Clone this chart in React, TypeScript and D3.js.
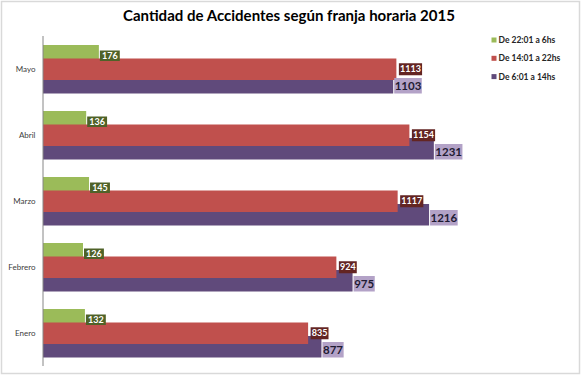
import React from "react";
import * as d3 from "d3";

const months = ["Enero", "Febrero", "Marzo", "Abril", "Mayo"];
const seriesNames = ["De 22:01 a 6hs", "De 14:01 a 22hs", "De 6:01 a 14hs"];
const nightValues = [132, 126, 145, 136, 176];
const afternoonValues = [835, 924, 1117, 1154, 1113];
const morningValues = [877, 975, 1216, 1231, 1103];
const title = "Cantidad de Accidentes según franja horaria 2015";

const W = 581;
const H = 376;
const FONT = "Lato, 'Noto Sans', Arial, sans-serif";

const barColors = ["#9bbb59", "#c0504d", "#604a7b"];
const labelBg = ["#4f6228", "#632523", "#b3a2c7"];
const labelFg = ["#ffffff", "#ffffff", "#1f1b33"];

export default function App() {
  const x = d3.scaleLinear().domain([0, 1400]).range([43, 487.5]);
  const y = d3
    .scaleBand<string>()
    .domain([...months].reverse())
    .range([36, 366])
    .paddingInner(0)
    .paddingOuter(0);
  const barH = 21.5;
  const sub = d3.scalePoint<number>().domain([0, 1, 2]).range([9, 36]);

  const values = [nightValues, afternoonValues, morningValues];
  // draw order: green, purple, red (red on top)
  const drawOrder = [0, 2, 1];

  const bars: React.ReactNode[] = [];
  drawOrder.forEach((s) => {
    months.forEach((m, i) => {
      const v = values[s][i];
      const y0 = (y(m) as number) + (sub(s) as number);
      bars.push(
        <rect
          key={`b${s}-${i}`}
          x={x(0)}
          y={y0}
          width={x(v) - x(0)}
          height={barH}
          fill={barColors[s]}
        />
      );
    });
  });

  const labels: React.ReactNode[] = [];
  [0, 1, 2].forEach((s) => {
    months.forEach((m, i) => {
      const v = values[s][i];
      const t = String(v);
      const y0 = (y(m) as number) + (sub(s) as number);
      let bx: number, bw: number, bh: number, cy: number, fs: number;
      if (s === 0) {
        bx = x(v) + 1;
        bw = t.length * 5.3 + 4;
        bh = 10.5;
        cy = y0 + barH / 2;
        fs = 9;
      } else if (s === 1) {
        bx = x(v) + 2.5;
        bw = t.length * 5.3 + 2;
        bh = 12;
        cy = y0 + barH / 2;
        fs = 9;
      } else {
        bx = x(v) + 1;
        bw = t.length * 6.4 + 2;
        bh = 15.5;
        cy = y0 + barH - bh / 2;
        fs = 11.5;
      }
      labels.push(
        <g key={`l${s}-${i}`}>
          <rect x={bx} y={cy - bh / 2} width={bw} height={bh} fill={labelBg[s]} />
          <text
            x={bx + bw / 2}
            y={cy}
            dy="0.36em"
            textAnchor="middle"
            fontFamily={FONT}
            fontWeight="bold"
            fontSize={fs}
            fill={labelFg[s]}
          >
            {t}
          </text>
        </g>
      );
    });
  });

  return (
    <svg
      width={W}
      height={H}
      style={{ position: "absolute", left: 0, top: 0, background: "#fff" }}
    >
      <rect x={1.5} y={1.5} width={578} height={372} fill="#fff" stroke="#d9d9d9" strokeWidth={1.5} />
      <text
        x={289}
        y={21}
        textAnchor="middle"
        fontFamily={FONT}
        fontWeight="bold"
        fontSize={15}
        fill="#000"
        textLength={332}
        lengthAdjust="spacingAndGlyphs"
      >
        {title}
      </text>
      {bars}
      <line x1={43} x2={43} y1={36} y2={366} stroke="#868686" strokeWidth={1} />
      {months.map((m) => (
        <text
          key={m}
          x={35.5}
          y={(y(m) as number) + y.bandwidth() / 2}
          dy="0.35em"
          textAnchor="end"
          fontFamily={FONT}
          fontSize={8}
          fill="#404040"
        >
          {m}
        </text>
      ))}
      {labels}
      {seriesNames.map((n, i) => {
        const ly = 40 + i * 18.3;
        return (
          <g key={n}>
            <rect x={491.5} y={ly - 2.5} width={5} height={5} fill={barColors[i]} />
            <text
              x={498.5}
              y={ly}
              dy="0.35em"
              fontFamily={FONT}
              fontWeight="bold"
              fontSize={8.5}
              fill="#262626"
            >
              {n}
            </text>
          </g>
        );
      })}
    </svg>
  );
}
